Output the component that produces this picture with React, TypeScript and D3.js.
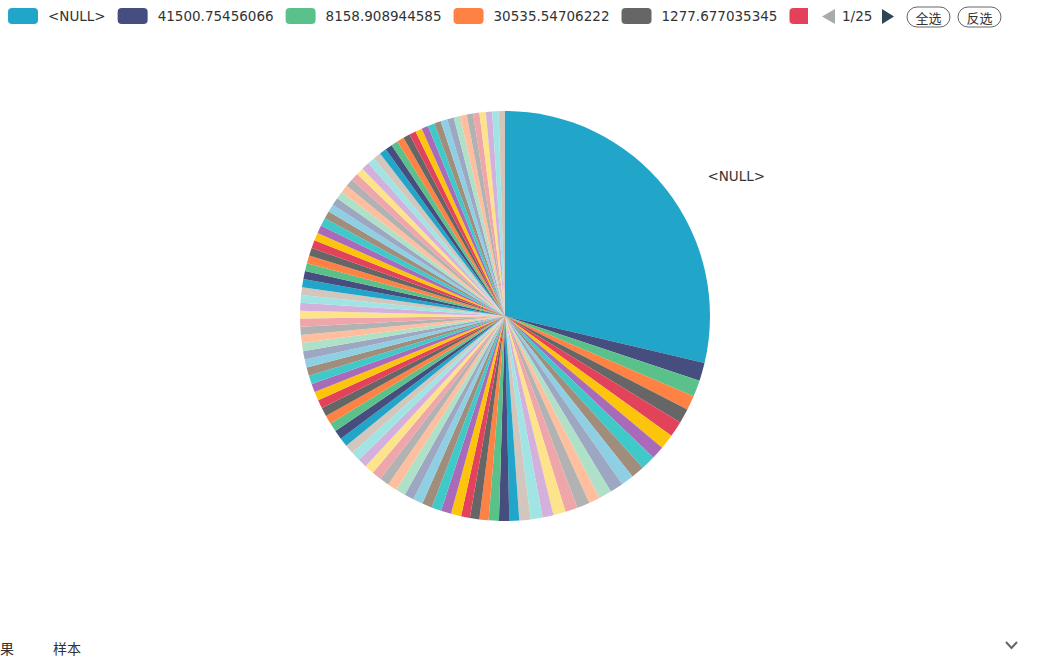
import React from "react";
import * as d3 from "d3";

// Palette cycled over the slices, in series order
const sliceColors = [
  "#21a6ca", "#454e7e", "#5bc18b", "#fd8244", "#666666",
  "#e3435a", "#fcc50b", "#a96bb9", "#3fc9c9", "#a08d7c",
  "#8fcfe3", "#9ea7c1", "#aee1c7", "#ffbf9e", "#b2b2b2",
  "#eea6ab", "#fde38a", "#d3b1dc", "#a0e5e4", "#d2c6bd",
];

// Record counts per category (first entry is the <NULL> bucket)
const sliceCounts = [
  1034,
  51, 47, 41, 41, 45, 42, 37, 41, 38, 36, 38, 36, 32, 36, 35,
  35, 31, 34, 32, 28,
  29, 29, 26, 27, 25, 29, 29, 28, 28, 28, 27, 28, 27, 27, 27, 27, 26, 27, 26,
  25, 26, 25, 25, 25, 24, 25, 24, 24, 24, 23, 24, 23, 23, 23, 23, 22, 22, 22, 22,
  23, 23, 22, 23, 22, 23, 22, 23, 23, 22, 22, 22, 22, 22, 22, 22, 21, 22, 21, 22,
  20, 20, 19, 20, 19, 19, 19, 19, 19, 19, 19, 19, 18, 19, 18, 18, 18, 18, 18, 18,
];

// Legend names on the first page of the scrolling legend
const legendNames = [
  "<NULL>",
  "41500.75456066",
  "8158.908944585",
  "30535.54706222",
  "1277.677035345",
];
const legendSwatchCount = 6;
const legendPage = "1/25";
const legendButtons = ["全选", "反选"];
const footerTabs = ["果", "样本"];

const W = 1039;
const H = 657;
const FONT = "'DejaVu Sans', 'Noto Sans CJK SC', sans-serif";
const FONT_SIZE = 13.5;

function textWidth(s: string, size = FONT_SIZE): number {
  const c = document.createElement("canvas").getContext("2d");
  if (!c) return s.length * size * 0.62;
  c.font = `${size}px 'DejaVu Sans', 'Noto Sans CJK SC', sans-serif`;
  return c.measureText(s).width;
}

export default function App() {
  const cx = 505;
  const cy = 316;
  const radius = 205;

  const pie = d3.pie<number>().sort(null).value((d) => d).startAngle(0).endAngle(Math.PI * 2);
  const arcs = pie(sliceCounts);
  const arc = d3.arc<d3.PieArcDatum<number>>().innerRadius(0).outerRadius(radius);
  const color = d3.scaleOrdinal<number, string>().domain(d3.range(sliceColors.length)).range(sliceColors);

  // Legend layout: swatch, gap, name, gap, next swatch
  const swW = 30, swH = 16, legendY = 16;
  const items: { x: number; tx: number; i: number; name?: string }[] = [];
  let x = 8;
  for (let i = 0; i < legendSwatchCount; i++) {
    const name = legendNames[i];
    items.push({ x, tx: x + swW + 10, i, name });
    x += swW + 10 + (name ? textWidth(name) : 0) + 12;
  }
  const clipRight = 808;

  // Label for the leading slice
  const first = arcs[0];
  const mid = (first.startAngle + first.endAngle) / 2;
  const lx = cx + (radius + 20) * Math.sin(mid) + 26;
  const ly = cy - (radius + 20) * Math.cos(mid);

  return (
    <svg
      width={W}
      height={H}
      style={{ position: "fixed", left: 0, top: 0, background: "#fff" }}
      fontFamily={FONT}
    >
      <defs>
        <clipPath id="legend-clip">
          <rect x={0} y={0} width={clipRight} height={34} />
        </clipPath>
      </defs>

      <g transform={`translate(${cx},${cy})`}>
        {arcs.map((a, i) => (
          <path key={i} d={arc(a) || ""} fill={color(i % sliceColors.length)} />
        ))}
      </g>

      <text x={lx} y={ly} dominantBaseline="central" fontSize={FONT_SIZE} fill="#333">
        {legendNames[0]}
      </text>

      <g clipPath="url(#legend-clip)">
        {items.map((it) => (
          <g key={it.i}>
            <rect
              x={it.x}
              y={legendY - swH / 2}
              width={swW}
              height={swH}
              rx={4}
              fill={color(it.i % sliceColors.length)}
            />
            {it.name && (
              <text x={it.tx} y={legendY} dominantBaseline="central" fontSize={FONT_SIZE} fill="#333">
                {it.name}
              </text>
            )}
          </g>
        ))}
      </g>

      {/* page controls */}
      <path d={`M835,9 L822,16.5 L835,24 Z`} fill="#aaa" />
      <text x={842} y={legendY} dominantBaseline="central" fontSize={FONT_SIZE} fill="#333">
        {legendPage}
      </text>
      <path d={`M882,9 L894,16.5 L882,24 Z`} fill="#2f4554" />

      {legendButtons.map((b, i) => {
        const bx = 907 + i * 51;
        return (
          <g key={b}>
            <rect x={bx} y={7} width={43} height={20} rx={10} fill="#fff" stroke="#666" strokeWidth={1} />
            <text
              x={bx + 21.5}
              y={17.5}
              textAnchor="middle"
              dominantBaseline="central"
              fontSize={13}
              fill="#333"
              fontFamily="'Noto Sans CJK SC', sans-serif"
            >
              {b}
            </text>
          </g>
        );
      })}

      {footerTabs.map((t, i) => (
        <text
          key={t}
          x={i === 0 ? 0 : 53}
          y={654}
          fontSize={14}
          fill="#333"
          fontFamily="'Noto Sans CJK SC', sans-serif"
        >
          {t}
        </text>
      ))}

      <path d="M1006,642 L1011.5,648 L1017,642" fill="none" stroke="#666" strokeWidth={2} />
    </svg>
  );
}
